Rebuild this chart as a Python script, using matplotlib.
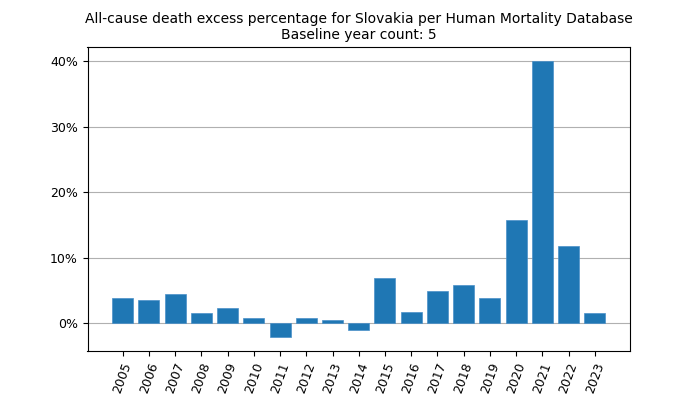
import matplotlib
matplotlib.use("Agg")
import matplotlib.pyplot as plt
from matplotlib.ticker import PercentFormatter

years = [2005, 2006, 2007, 2008, 2009, 2010, 2011, 2012, 2013, 2014,
         2015, 2016, 2017, 2018, 2019, 2020, 2021, 2022, 2023]
excess_pct = [3.9, 3.5, 4.5, 1.6, 2.3, 0.8, -2.1, 0.8, 0.4, -1.1,
              6.9, 1.7, 4.9, 5.8, 3.8, 15.7, 40.0, 11.7, 1.6]

fig, ax = plt.subplots(figsize=(7, 3.94), dpi=100)
ax.bar(years, excess_pct, width=0.8, color="#1f77b4", edgecolor="#4a90c8", linewidth=0.5, zorder=3)
ax.grid(axis="y", color="#b0b0b0", linewidth=0.8, zorder=0)
ax.set_axisbelow(True)
ax.yaxis.set_major_formatter(PercentFormatter(decimals=0))
ax.set_xticks(years)
ax.set_xticklabels([str(y) for y in years], rotation=70, fontsize=9)
ax.tick_params(axis="y", labelsize=9)
ax.set_title("All-cause death excess percentage for Slovakia per Human Mortality Database\n"
             "Baseline year count: 5", fontsize=10)

fig.savefig("out.png", dpi=100)
